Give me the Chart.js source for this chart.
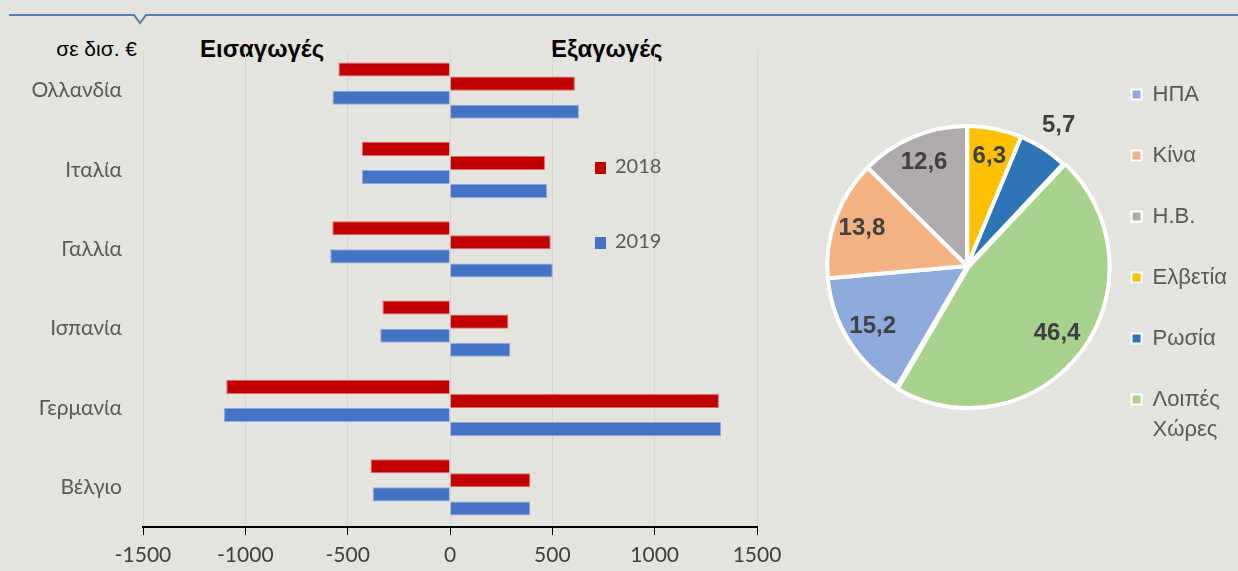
<!DOCTYPE html>
<html>
<head>
<meta charset="utf-8">
<script src="https://cdn.jsdelivr.net/npm/chart.js@4.4.0/dist/chart.umd.min.js"></script>
<style>
body { margin:0; background:#e5e3de; width:1238px; height:571px; overflow:hidden; position:relative; font-family:"Liberation Sans", Arial, sans-serif; }
#barWrap { position:absolute; left:0; top:0; width:790px; height:571px; }
#pieWrap { position:absolute; left:790px; top:0; width:448px; height:571px; }
.txt { position:absolute; white-space:nowrap; line-height:1; }
.yr { position:absolute; font-family:Lato, sans-serif; font-size:20px; color:#595959; line-height:1; }
.yr span { display:inline-block; width:11px; height:12px; margin-right:9px; vertical-align:-1px; }
</style>
</head>
<body>
<svg width="1238" height="30" style="position:absolute;left:0;top:0">
  <polyline points="9,15 134,15 140,23 146,15 1238,15" fill="none" stroke="#5b7ea6" stroke-width="2"/>
</svg>
<div class="txt" style="right:1101px;top:38px;font-size:21px;color:#000">σε δισ. €</div>
<div class="txt" style="left:200px;top:37px;font-size:24px;font-weight:bold;color:#000">Εισαγωγές</div>
<div class="txt" style="left:551px;top:37px;font-size:24px;font-weight:bold;color:#000">Εξαγωγές</div>
<div id="barWrap"><canvas id="bars" width="790" height="571"></canvas></div>
<div id="pieWrap"><canvas id="pie" width="448" height="571"></canvas></div>
<div class="yr" id="lg2018" style="left:595px;top:155px"></div>
<div class="yr" id="lg2019" style="left:595px;top:230px"></div>
<script>
'use strict';

// bar chart data (δισ. €)
let countries = ['Ολλανδία', 'Ιταλία', 'Γαλλία', 'Ισπανία', 'Γερμανία', 'Βέλγιο'];
let imports2018 = [-545, -430, -575, -330, -1093, -388];
let exports2018 = [610, 464, 492, 285, 1314, 392];
let imports2019 = [-574, -430, -585, -341, -1105, -378];
let exports2019 = [630, 474, 502, 295, 1324, 392];
let years = ['2018', '2019'];
let xTicks = [-1500, -1000, -500, 0, 500, 1000, 1500];

// pie chart data (%)
let pieNames = ['ΗΠΑ', 'Κίνα', 'Η.Β.', 'Ελβετία', 'Ρωσία', ['Λοιπές', 'Χώρες']];
let pieValues = [15.2, 13.8, 12.6, 6.3, 5.7, 46.4];

let red = '#c00000';
let blue = '#4472c4';
let pieColors = ['#8faadc', '#f4b183', '#afabab', '#ffc000', '#2e75b6', '#a9d18e'];

document.getElementById('lg2018').innerHTML = '<span style="background:' + red + '"></span>' + years[0];
document.getElementById('lg2019').innerHTML = '<span style="background:' + blue + '"></span>' + years[1];

function barSet(label, data, color, edge) {
    return {
        label: label,
        data: data,
        backgroundColor: color,
        borderColor: edge,
        borderWidth: 1,
        categoryPercentage: 0.71,
        barPercentage: 1.0
    };
}

let barChart = new Chart(document.getElementById('bars'), {
    type: 'bar',
    data: {
        labels: countries,
        datasets: [
            barSet('Εισαγωγές ' + years[0], imports2018, red, '#e06a6a'),
            barSet('Εξαγωγές ' + years[0], exports2018, red, '#e06a6a'),
            barSet('Εισαγωγές ' + years[1], imports2019, blue, '#8eaadc'),
            barSet('Εξαγωγές ' + years[1], exports2019, blue, '#8eaadc')
        ]
    },
    options: {
        indexAxis: 'y',
        responsive: false,
        animation: false,
        devicePixelRatio: 1,
        layout: { padding: { top: 51, right: 33, left: 0, bottom: 0 } },
        plugins: { legend: { display: false }, tooltip: { enabled: false } },
        scales: {
            x: {
                min: xTicks[0],
                max: xTicks[xTicks.length - 1],
                afterBuildTicks: function (s) { s.ticks = xTicks.map(v => ({ value: v })); },
                afterFit: function (s) { s.height = 44; },
                grid: { color: '#d6d4cf', lineWidth: 1, tickColor: '#000', tickLength: 8 },
                border: { color: '#000', width: 2 },
                ticks: {
                    color: '#404040',
                    font: { family: 'Lato', size: 21 },
                    padding: 8,
                    callback: function (v) { return String(v); }
                }
            },
            y: {
                afterFit: function (s) { s.width = 143; },
                grid: { display: false, drawTicks: false },
                border: { display: false },
                ticks: { color: '#595959', font: { family: 'Lato', size: 21 }, padding: 21 }
            }
        }
    }
});

function fmt(v) {
    return v.toFixed(1).replace('.', ',');
}

let pieLabels = {
    id: 'pieLabels',
    afterDatasetsDraw(chart) {
        let ctx = chart.ctx;
        let meta = chart.getDatasetMeta(0);
        ctx.save();
        ctx.font = 'bold 24px "Liberation Sans", Arial, sans-serif';
        ctx.fillStyle = '#404040';
        ctx.textAlign = 'center';
        ctx.textBaseline = 'middle';
        meta.data.forEach(function (arc, i) {
            let p = arc.getProps(['x', 'y', 'startAngle', 'endAngle', 'outerRadius']);
            let mid = (p.startAngle + p.endAngle) / 2;
            let f = pieValues[i] < 6 ? 1.2 : 0.8;
            ctx.fillText(fmt(pieValues[i]), p.x + Math.cos(mid) * p.outerRadius * f, p.y + Math.sin(mid) * p.outerRadius * f);
        });
        ctx.restore();
    }
};

// Η.Β. ends at 12 o'clock
let firstAngle = -360 * (pieValues[0] + pieValues[1] + pieValues[2]) / 100;

let pieChart = new Chart(document.getElementById('pie'), {
    type: 'pie',
    data: {
        labels: pieNames,
        datasets: [{
            data: pieValues,
            backgroundColor: pieColors,
            borderColor: '#ffffff',
            borderWidth: 4,
            offset: [0, 0, 0, 0, 0, 6]
        }]
    },
    options: {
        responsive: false,
        animation: false,
        devicePixelRatio: 1,
        rotation: firstAngle,
        radius: 140,
        layout: { padding: { top: 0, bottom: 39, left: 52, right: 1 } },
        plugins: {
            tooltip: { enabled: false },
            legend: {
                position: 'right',
                align: 'center',
                labels: {
                    color: '#595959',
                    font: { family: '"Liberation Sans", Arial', size: 22, lineHeight: 1.36 },
                    boxWidth: 10,
                    boxHeight: 10,
                    padding: 39,
                    generateLabels: function (chart) {
                        let items = Chart.overrides.pie.plugins.legend.labels.generateLabels(chart);
                        items.forEach(function (it) { it.lineWidth = 2; });
                        return items;
                    }
                }
            }
        }
    },
    plugins: [pieLabels]
});
</script>
</body>
</html>
